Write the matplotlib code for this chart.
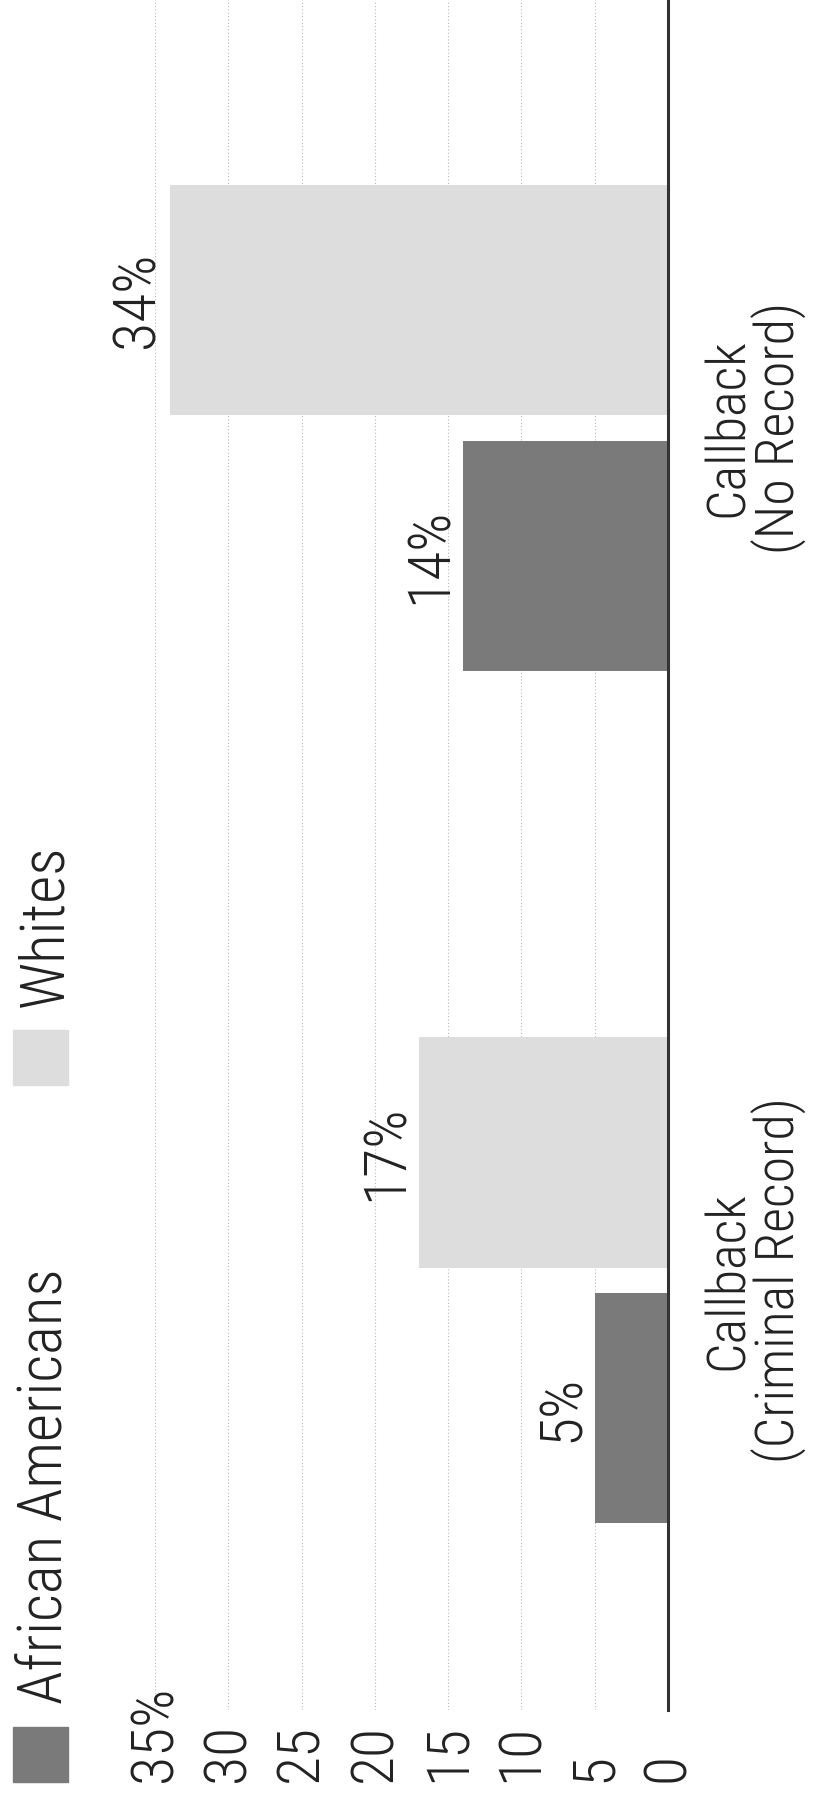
import numpy as np
import matplotlib.pyplot as plt
from matplotlib import font_manager
from matplotlib.patches import Rectangle

# callback rates (%)
categories = ['Callback\n(Criminal Record)', 'Callback\n(No Record)']
series_names = ['African Americans', 'Whites']
african_americans = [5, 14]
whites = [17, 34]
tick_values = [0, 5, 10, 15, 20, 25, 30, 35]
tick_labels = ['0', '5', '10', '15', '20', '25', '30', '35%']

# narrow sans if available
installed = {f.name for f in font_manager.fontManager.ttflist}
family = next((f for f in ['Liberation Sans Narrow', 'Roboto Condensed', 'DejaVu Sans Condensed']
               if f in installed), 'DejaVu Sans')
plt.rcParams['font.family'] = [family, 'DejaVu Sans']
plt.rcParams['font.weight'] = 'light'

W, H = 815, 1796
fig = plt.figure(figsize=(W / 100, H / 100), dpi=100)
ax = fig.add_axes([155 / W, 1 - 1710 / H, (668 - 155) / W, 1710 / H])

dark = '#7a7a7a'
light = '#dddddd'
text_color = '#222222'
y = np.arange(len(categories))
bw = 0.27
off = 0.15

ax.barh(y - off, african_americans, height=bw, color=dark, zorder=2)
ax.barh(y + off, whites, height=bw, color=light, zorder=2)

# value labels beyond the bar ends
for vals, pos in [(african_americans, y - off), (whites, y + off)]:
    for v, p in zip(vals, pos):
        ax.annotate(f'{v}%', xy=(v, p), xytext=(-3, 0), textcoords='offset points',
                    rotation=90, ha='right', va='center', fontsize=43, color=text_color)

ax.set_xlim(35, 0)
ax.set_ylim(-0.504, 1.502)

ax.set_xticks(tick_values, tick_labels)
ax.tick_params(axis='x', length=0, pad=52, labelsize=43, labelrotation=90, labelcolor=text_color)
for lbl in ax.get_xticklabels():
    lbl.set_va('bottom')
    lbl.set_ha('center')

ax.yaxis.tick_right()
ax.set_yticks(y, categories)
ax.tick_params(axis='y', length=0, pad=25, labelsize=39, labelrotation=90, labelcolor=text_color)
for lbl in ax.get_yticklabels():
    lbl.set_va('center')
    lbl.set_ha('left')
    lbl.set_multialignment('center')
    lbl.set_linespacing(0.95)

ax.grid(axis='x', color='#b8b8b8', lw=0.8, ls=(0, (1, 2)), zorder=0)
ax.grid(axis='y', visible=False)
ax.set_axisbelow(True)
for side in ['top', 'bottom', 'left']:
    ax.spines[side].set_visible(False)
ax.spines['right'].set_color('#333333')
ax.spines['right'].set_linewidth(2.2)

# legend, turned like the rest of the chart
for name, color, sy in [(series_names[0], dark, 1727), (series_names[1], light, 1030)]:
    fig.add_artist(Rectangle((13 / W, 1 - (sy + 55) / H), 55 / W, 55 / H,
                             transform=fig.transFigure, color=color))
    fig.text(16 / W, 1 - (sy - 23) / H, name, rotation=90, ha='left', va='bottom',
             fontsize=44, color=text_color)

fig.savefig('out.png', dpi=100)
